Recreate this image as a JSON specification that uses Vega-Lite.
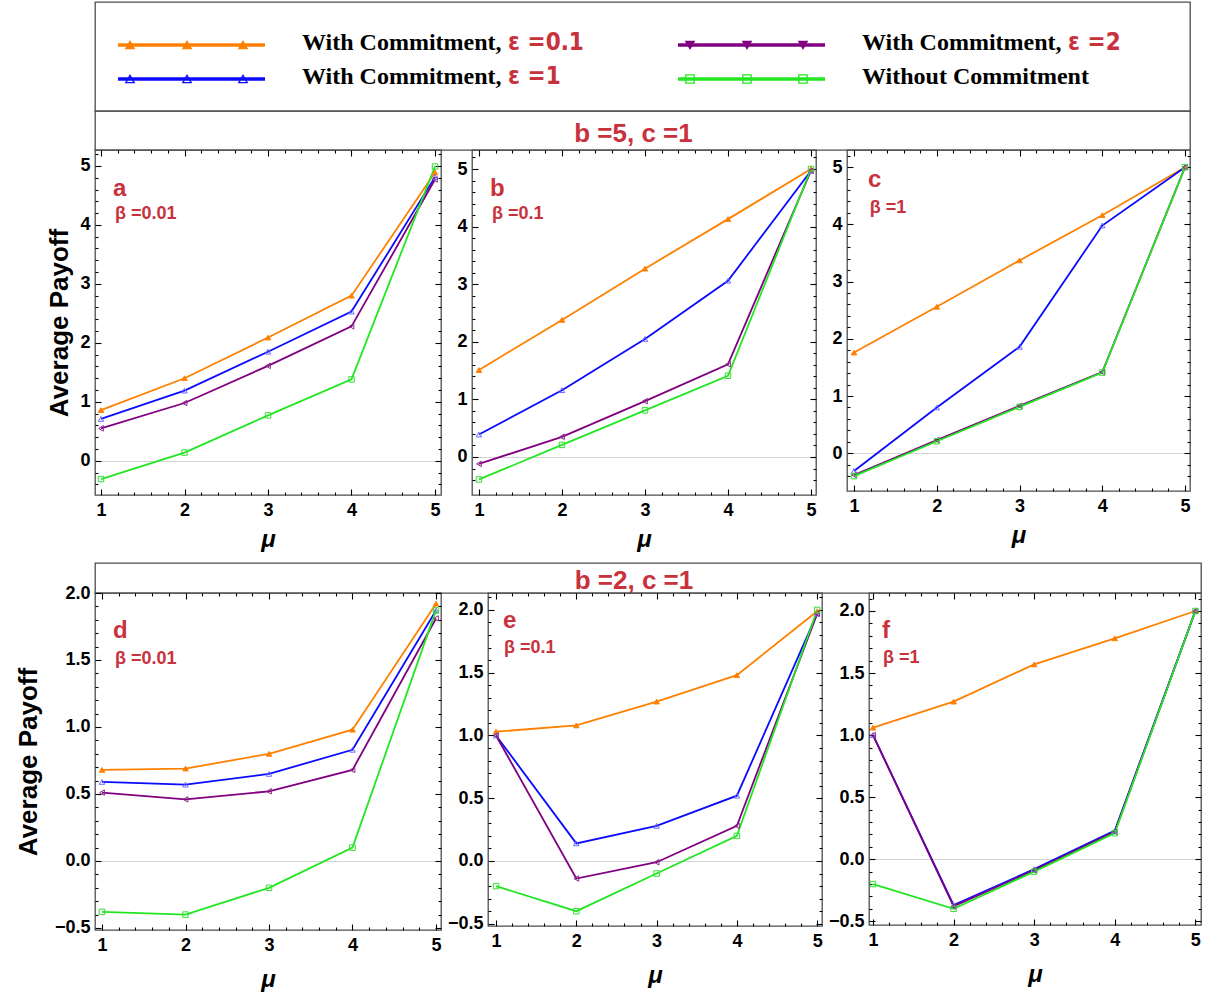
{
"$schema": "https://vega.github.io/schema/vega-lite/v6.json",
"padding": {"left": 14, "top": 1, "right": 2, "bottom": 2},
"background": "white",
"datasets": {
"payoff": [
{"panel":"a","series":"e01","mu":1,"payoff":0.86},{"panel":"a","series":"e01","mu":2,"payoff":1.40},{"panel":"a","series":"e01","mu":3,"payoff":2.09},{"panel":"a","series":"e01","mu":4,"payoff":2.80},{"panel":"a","series":"e01","mu":5,"payoff":4.89},
{"panel":"a","series":"e1","mu":1,"payoff":0.71},{"panel":"a","series":"e1","mu":2,"payoff":1.19},{"panel":"a","series":"e1","mu":3,"payoff":1.85},{"panel":"a","series":"e1","mu":4,"payoff":2.53},{"panel":"a","series":"e1","mu":5,"payoff":4.81},
{"panel":"a","series":"e2","mu":1,"payoff":0.55},{"panel":"a","series":"e2","mu":2,"payoff":0.98},{"panel":"a","series":"e2","mu":3,"payoff":1.61},{"panel":"a","series":"e2","mu":4,"payoff":2.28},{"panel":"a","series":"e2","mu":5,"payoff":4.77},
{"panel":"a","series":"none","mu":1,"payoff":-0.31},{"panel":"a","series":"none","mu":2,"payoff":0.14},{"panel":"a","series":"none","mu":3,"payoff":0.77},{"panel":"a","series":"none","mu":4,"payoff":1.38},{"panel":"a","series":"none","mu":5,"payoff":4.99},
{"panel":"b","series":"e01","mu":1,"payoff":1.51},{"panel":"b","series":"e01","mu":2,"payoff":2.38},{"panel":"b","series":"e01","mu":3,"payoff":3.27},{"panel":"b","series":"e01","mu":4,"payoff":4.13},{"panel":"b","series":"e01","mu":5,"payoff":5.0},
{"panel":"b","series":"e1","mu":1,"payoff":0.39},{"panel":"b","series":"e1","mu":2,"payoff":1.16},{"panel":"b","series":"e1","mu":3,"payoff":2.05},{"panel":"b","series":"e1","mu":4,"payoff":3.06},{"panel":"b","series":"e1","mu":5,"payoff":4.97},
{"panel":"b","series":"e2","mu":1,"payoff":-0.12},{"panel":"b","series":"e2","mu":2,"payoff":0.35},{"panel":"b","series":"e2","mu":3,"payoff":0.97},{"panel":"b","series":"e2","mu":4,"payoff":1.61},{"panel":"b","series":"e2","mu":5,"payoff":4.97},
{"panel":"b","series":"none","mu":1,"payoff":-0.39},{"panel":"b","series":"none","mu":2,"payoff":0.21},{"panel":"b","series":"none","mu":3,"payoff":0.81},{"panel":"b","series":"none","mu":4,"payoff":1.41},{"panel":"b","series":"none","mu":5,"payoff":5.0},
{"panel":"c","series":"e01","mu":1,"payoff":1.76},{"panel":"c","series":"e01","mu":2,"payoff":2.56},{"panel":"c","series":"e01","mu":3,"payoff":3.37},{"panel":"c","series":"e01","mu":4,"payoff":4.16},{"panel":"c","series":"e01","mu":5,"payoff":5.0},
{"panel":"c","series":"e1","mu":1,"payoff":-0.31},{"panel":"c","series":"e1","mu":2,"payoff":0.80},{"panel":"c","series":"e1","mu":3,"payoff":1.86},{"panel":"c","series":"e1","mu":4,"payoff":3.98},{"panel":"c","series":"e1","mu":5,"payoff":5.0},
{"panel":"c","series":"e2","mu":1,"payoff":-0.38},{"panel":"c","series":"e2","mu":2,"payoff":0.23},{"panel":"c","series":"e2","mu":3,"payoff":0.83},{"panel":"c","series":"e2","mu":4,"payoff":1.42},{"panel":"c","series":"e2","mu":5,"payoff":5.0},
{"panel":"c","series":"none","mu":1,"payoff":-0.40},{"panel":"c","series":"none","mu":2,"payoff":0.21},{"panel":"c","series":"none","mu":3,"payoff":0.81},{"panel":"c","series":"none","mu":4,"payoff":1.41},{"panel":"c","series":"none","mu":5,"payoff":5.0},
{"panel":"d","series":"e01","mu":1,"payoff":0.68},{"panel":"d","series":"e01","mu":2,"payoff":0.69},{"panel":"d","series":"e01","mu":3,"payoff":0.80},{"panel":"d","series":"e01","mu":4,"payoff":0.98},{"panel":"d","series":"e01","mu":5,"payoff":1.92},
{"panel":"d","series":"e1","mu":1,"payoff":0.59},{"panel":"d","series":"e1","mu":2,"payoff":0.57},{"panel":"d","series":"e1","mu":3,"payoff":0.65},{"panel":"d","series":"e1","mu":4,"payoff":0.83},{"panel":"d","series":"e1","mu":5,"payoff":1.87},
{"panel":"d","series":"e2","mu":1,"payoff":0.51},{"panel":"d","series":"e2","mu":2,"payoff":0.46},{"panel":"d","series":"e2","mu":3,"payoff":0.52},{"panel":"d","series":"e2","mu":4,"payoff":0.68},{"panel":"d","series":"e2","mu":5,"payoff":1.81},
{"panel":"d","series":"none","mu":1,"payoff":-0.38},{"panel":"d","series":"none","mu":2,"payoff":-0.40},{"panel":"d","series":"none","mu":3,"payoff":-0.20},{"panel":"d","series":"none","mu":4,"payoff":0.10},{"panel":"d","series":"none","mu":5,"payoff":1.87},
{"panel":"e","series":"e01","mu":1,"payoff":1.03},{"panel":"e","series":"e01","mu":2,"payoff":1.08},{"panel":"e","series":"e01","mu":3,"payoff":1.27},{"panel":"e","series":"e01","mu":4,"payoff":1.48},{"panel":"e","series":"e01","mu":5,"payoff":1.99},
{"panel":"e","series":"e1","mu":1,"payoff":1.0},{"panel":"e","series":"e1","mu":2,"payoff":0.14},{"panel":"e","series":"e1","mu":3,"payoff":0.28},{"panel":"e","series":"e1","mu":4,"payoff":0.52},{"panel":"e","series":"e1","mu":5,"payoff":1.97},
{"panel":"e","series":"e2","mu":1,"payoff":1.0},{"panel":"e","series":"e2","mu":2,"payoff":-0.14},{"panel":"e","series":"e2","mu":3,"payoff":-0.01},{"panel":"e","series":"e2","mu":4,"payoff":0.28},{"panel":"e","series":"e2","mu":5,"payoff":1.97},
{"panel":"e","series":"none","mu":1,"payoff":-0.20},{"panel":"e","series":"none","mu":2,"payoff":-0.40},{"panel":"e","series":"none","mu":3,"payoff":-0.10},{"panel":"e","series":"none","mu":4,"payoff":0.20},{"panel":"e","series":"none","mu":5,"payoff":2.0},
{"panel":"f","series":"e01","mu":1,"payoff":1.06},{"panel":"f","series":"e01","mu":2,"payoff":1.27},{"panel":"f","series":"e01","mu":3,"payoff":1.57},{"panel":"f","series":"e01","mu":4,"payoff":1.78},{"panel":"f","series":"e01","mu":5,"payoff":2.0},
{"panel":"f","series":"e1","mu":1,"payoff":1.0},{"panel":"f","series":"e1","mu":2,"payoff":-0.37},{"panel":"f","series":"e1","mu":3,"payoff":-0.08},{"panel":"f","series":"e1","mu":4,"payoff":0.23},{"panel":"f","series":"e1","mu":5,"payoff":2.0},
{"panel":"f","series":"e2","mu":1,"payoff":1.0},{"panel":"f","series":"e2","mu":2,"payoff":-0.38},{"panel":"f","series":"e2","mu":3,"payoff":-0.09},{"panel":"f","series":"e2","mu":4,"payoff":0.22},{"panel":"f","series":"e2","mu":5,"payoff":2.0},
{"panel":"f","series":"none","mu":1,"payoff":-0.20},{"panel":"f","series":"none","mu":2,"payoff":-0.40},{"panel":"f","series":"none","mu":3,"payoff":-0.10},{"panel":"f","series":"none","mu":4,"payoff":0.21},{"panel":"f","series":"none","mu":5,"payoff":2.0}
],
"panels": [
{"panel":"a","beta":"β =0.01"},{"panel":"b","beta":"β =0.1"},{"panel":"c","beta":"β =1"},
{"panel":"d","beta":"β =0.01"},{"panel":"e","beta":"β =0.1"},{"panel":"f","beta":"β =1"}
],
"legend": [
{"series":"e01","column":"left","line":"1","label":"With Commitment,","eps":"ε =0.1"},
{"series":"e1","column":"left","line":"2","label":"With Commitment,","eps":"ε =1"},
{"series":"e2","column":"right","line":"1","label":"With Commitment,","eps":"ε =2"},
{"series":"none","column":"right","line":"2","label":"Without Commitment","eps":""}
],
"strips": [
{"row":1,"label":"b =5, c =1"},{"row":2,"label":"b =2, c =1"}
]
},
"bounds": "flush",
"spacing": 0,
"resolve": {"scale": {"shape": "independent", "fill": "independent", "stroke": "independent", "color": "independent", "x": "independent", "y": "independent"}},
"vconcat": [
 {"width":1095,"height":109,"data":{"name":"legend"},
  "encoding":{
   "x":{"field":"column","type":"nominal","scale":{"type":"point","domain":["left","right"],"range":[20,580],"padding":0},"axis":null},
   "y":{"field":"line","type":"nominal","scale":{"type":"point","domain":["1","2"],"range":[43,77],"padding":0},"axis":null}
  },
  "layer":[
   {"mark":{"type":"rule","strokeWidth":3.5,"xOffset":3,"x2Offset":150},
    "encoding":{"x2":{"field":"column"},"color":{"field":"series","type":"nominal","scale":{"domain":["e01","e1","e2","none"],"range":["#ff8000","#0a0aff","#800080","#22e622"]},"legend":null}}},
   {"mark":{"type":"point","filled":false,"strokeWidth":1.3,"size":70,"opacity":1,"xOffset":15},
    "encoding":{"shape":{"field":"series","type":"nominal","scale":{"domain":["e01","e1","e2","none"],"range":["triangle-up","triangle-up","triangle-down","square"]},"legend":null},
     "stroke":{"field":"series","type":"nominal","scale":{"domain":["e01","e1","e2","none"],"range":["#ff8000","#0a0aff","#800080","#22e622"]},"legend":null},
     "fill":{"field":"series","type":"nominal","scale":{"domain":["e01","e1","e2","none"],"range":["#ff8000","rgba(255,255,255,0)","#800080","rgba(255,255,255,0)"]},"legend":null}}},
   {"mark":{"type":"point","filled":false,"strokeWidth":1.3,"size":70,"opacity":1,"xOffset":72},
    "encoding":{"shape":{"field":"series","type":"nominal","scale":{"domain":["e01","e1","e2","none"],"range":["triangle-up","triangle-up","triangle-down","square"]},"legend":null},
     "stroke":{"field":"series","type":"nominal","scale":{"domain":["e01","e1","e2","none"],"range":["#ff8000","#0a0aff","#800080","#22e622"]},"legend":null},
     "fill":{"field":"series","type":"nominal","scale":{"domain":["e01","e1","e2","none"],"range":["#ff8000","rgba(255,255,255,0)","#800080","rgba(255,255,255,0)"]},"legend":null}}},
   {"mark":{"type":"point","filled":false,"strokeWidth":1.3,"size":70,"opacity":1,"xOffset":128},
    "encoding":{"shape":{"field":"series","type":"nominal","scale":{"domain":["e01","e1","e2","none"],"range":["triangle-up","triangle-up","triangle-down","square"]},"legend":null},
     "stroke":{"field":"series","type":"nominal","scale":{"domain":["e01","e1","e2","none"],"range":["#ff8000","#0a0aff","#800080","#22e622"]},"legend":null},
     "fill":{"field":"series","type":"nominal","scale":{"domain":["e01","e1","e2","none"],"range":["#ff8000","rgba(255,255,255,0)","#800080","rgba(255,255,255,0)"]},"legend":null}}},
   {"mark":{"type":"text","align":"left","baseline":"middle","dx":187,"dy":-2,"font":"Liberation Serif","fontWeight":"bold","fontSize":24,"color":"black"},
    "encoding":{"text":{"field":"label"}}},
   {"mark":{"type":"text","align":"left","baseline":"middle","dx":393,"dy":-2,"font":"Liberation Sans Narrow, DejaVu Sans Condensed, sans-serif","fontWeight":"bold","fontSize":24,"color":"#c8323c"},
    "encoding":{"text":{"field":"eps"}}}
  ]},
 {"width":1095,"height":39,"data":{"name":"strips"},"transform":[{"filter":"datum.row===1"}],
  "mark":{"type":"text","align":"center","baseline":"middle","dx":-9,"dy":3,"font":"Liberation Sans","fontWeight":"bold","fontSize":26,"color":"#c8323c"},
  "encoding":{"x":{"field":"label","type":"nominal","scale":{"type":"point"},"axis":null},"text":{"field":"label"}}},
 {"bounds":"flush","spacing":31,"hconcat":[
  {"width":346,"height":345,"resolve":{"axis":{"x":"independent","y":"independent"}},
   "layer":[
    {"data":{"name":"payoff"},"transform":[{"filter":"datum.panel==='a'"}],"mark":{"type":"line","strokeWidth":1.8},
     "encoding":{
      "x":{"field":"mu","type":"quantitative","scale":{"domain":[0.928,5.072],"nice":false,"zero":false},"axis":{"orient":"bottom","values":[1,2,3,4,5],"title":"μ","tickSize":-6,"titlePadding":8}},
      "y":{"field":"payoff","type":"quantitative","scale":{"domain":[-0.58,5.27],"nice":false,"zero":false},"axis":{"orient":"left","values":[0,1,2,3,4,5],"format":"d","title":"Average Payoff","tickSize":-6,"titlePadding":7,"grid":true,"gridColor":{"condition":{"test":"datum.value===0","value":"#d4d4d4"},"value":"rgba(255,255,255,0)"}}},
      "color":{"field":"series","type":"nominal","scale":{"domain":["e01","e1","e2","none"],"range":["#ff8000","#0a0aff","#800080","#22e622"]},"legend":null}}},
    {"data":{"name":"payoff"},"transform":[{"filter":"datum.panel==='a'"}],"mark":{"type":"point","filled":false,"strokeWidth":1,"size":30,"opacity":1},
     "encoding":{
      "x":{"field":"mu","type":"quantitative","axis":{"orient":"top","values":[1,2,3,4,5],"labels":false,"title":null,"tickSize":-6}},
      "y":{"field":"payoff","type":"quantitative","axis":{"orient":"right","values":[0,1,2,3,4,5],"labels":false,"title":null,"tickSize":-6}},
      "shape":{"field":"series","type":"nominal","scale":{"domain":["e01","e1","e2","none"],"range":["triangle-up","triangle-up","triangle-left","square"]},"legend":null},
      "stroke":{"field":"series","type":"nominal","scale":{"domain":["e01","e1","e2","none"],"range":["#ff8000","#6a6aff","#8a2b8a","#33dd33"]},"legend":null},
      "fill":{"field":"series","type":"nominal","scale":{"domain":["e01","e1","e2","none"],"range":["#ff8000","rgba(255,255,255,0)","rgba(255,255,255,0)","rgba(255,255,255,0)"]},"legend":null}}},
    {"data":{"name":"panels"},"transform":[{"filter":"datum.panel==='a'"}],"mark":{"type":"text","align":"left","baseline":"middle","font":"Liberation Sans","fontWeight":"bold","fontSize":24,"color":"#c8323c"},
     "encoding":{
      "x":{"datum":1.144,"type":"quantitative","axis":{"orient":"bottom","values":[1.2,1.4,1.6,1.8,2.2,2.4,2.6,2.8,3.2,3.4,3.6,3.8,4.2,4.4,4.6,4.8],"labels":false,"title":null,"tickSize":-3}},
      "y":{"datum":4.61,"type":"quantitative","axis":{"orient":"left","values":[-0.4,-0.2,0.2,0.4,0.6,0.8,1.2,1.4,1.6,1.8,2.2,2.4,2.6,2.8,3.2,3.4,3.6,3.8,4.2,4.4,4.6,4.8,5.2],"labels":false,"title":null,"tickSize":-3}},
      "text":{"field":"panel"}}},
    {"data":{"name":"panels"},"transform":[{"filter":"datum.panel==='a'"}],"mark":{"type":"text","align":"left","baseline":"middle","font":"Liberation Sans","fontWeight":"bold","fontSize":18,"color":"#c8323c"},
     "encoding":{
      "x":{"datum":1.168,"type":"quantitative","axis":{"orient":"top","values":[1.2,1.4,1.6,1.8,2.2,2.4,2.6,2.8,3.2,3.4,3.6,3.8,4.2,4.4,4.6,4.8],"labels":false,"title":null,"tickSize":-3}},
      "y":{"datum":4.19,"type":"quantitative","axis":{"orient":"right","values":[-0.4,-0.2,0.2,0.4,0.6,0.8,1.2,1.4,1.6,1.8,2.2,2.4,2.6,2.8,3.2,3.4,3.6,3.8,4.2,4.4,4.6,4.8,5.2],"labels":false,"title":null,"tickSize":-3}},
      "text":{"field":"beta"}}}
   ]},
  {"width":344,"height":345,"resolve":{"axis":{"x":"independent","y":"independent"}},
   "layer":[
    {"data":{"name":"payoff"},"transform":[{"filter":"datum.panel==='b'"}],"mark":{"type":"line","strokeWidth":1.8},
     "encoding":{
      "x":{"field":"mu","type":"quantitative","scale":{"domain":[0.916,5.06],"nice":false,"zero":false},"axis":{"orient":"bottom","values":[1,2,3,4,5],"title":"μ","tickSize":-6,"titlePadding":8}},
      "y":{"field":"payoff","type":"quantitative","scale":{"domain":[-0.66,5.33],"nice":false,"zero":false},"axis":{"orient":"left","values":[0,1,2,3,4,5],"format":"d","title":null,"tickSize":-6,"grid":true,"gridColor":{"condition":{"test":"datum.value===0","value":"#d4d4d4"},"value":"rgba(255,255,255,0)"}}},
      "color":{"field":"series","type":"nominal","scale":{"domain":["e01","e1","e2","none"],"range":["#ff8000","#0a0aff","#800080","#22e622"]},"legend":null}}},
    {"data":{"name":"payoff"},"transform":[{"filter":"datum.panel==='b'"}],"mark":{"type":"point","filled":false,"strokeWidth":1,"size":30,"opacity":1},
     "encoding":{
      "x":{"field":"mu","type":"quantitative","axis":{"orient":"top","values":[1,2,3,4,5],"labels":false,"title":null,"tickSize":-6}},
      "y":{"field":"payoff","type":"quantitative","axis":{"orient":"right","values":[0,1,2,3,4,5],"labels":false,"title":null,"tickSize":-6}},
      "shape":{"field":"series","type":"nominal","scale":{"domain":["e01","e1","e2","none"],"range":["triangle-up","triangle-up","triangle-left","square"]},"legend":null},
      "stroke":{"field":"series","type":"nominal","scale":{"domain":["e01","e1","e2","none"],"range":["#ff8000","#6a6aff","#8a2b8a","#33dd33"]},"legend":null},
      "fill":{"field":"series","type":"nominal","scale":{"domain":["e01","e1","e2","none"],"range":["#ff8000","rgba(255,255,255,0)","rgba(255,255,255,0)","rgba(255,255,255,0)"]},"legend":null}}},
    {"data":{"name":"panels"},"transform":[{"filter":"datum.panel==='b'"}],"mark":{"type":"text","align":"left","baseline":"middle","font":"Liberation Sans","fontWeight":"bold","fontSize":24,"color":"#c8323c"},
     "encoding":{
      "x":{"datum":1.133,"type":"quantitative","axis":{"orient":"bottom","values":[1.2,1.4,1.6,1.8,2.2,2.4,2.6,2.8,3.2,3.4,3.6,3.8,4.2,4.4,4.6,4.8],"labels":false,"title":null,"tickSize":-3}},
      "y":{"datum":4.65,"type":"quantitative","axis":{"orient":"left","values":[-0.4,-0.2,0.2,0.4,0.6,0.8,1.2,1.4,1.6,1.8,2.2,2.4,2.6,2.8,3.2,3.4,3.6,3.8,4.2,4.4,4.6,4.8,5.2],"labels":false,"title":null,"tickSize":-3}},
      "text":{"field":"panel"}}},
    {"data":{"name":"panels"},"transform":[{"filter":"datum.panel==='b'"}],"mark":{"type":"text","align":"left","baseline":"middle","font":"Liberation Sans","fontWeight":"bold","fontSize":18,"color":"#c8323c"},
     "encoding":{
      "x":{"datum":1.157,"type":"quantitative","axis":{"orient":"top","values":[1.2,1.4,1.6,1.8,2.2,2.4,2.6,2.8,3.2,3.4,3.6,3.8,4.2,4.4,4.6,4.8],"labels":false,"title":null,"tickSize":-3}},
      "y":{"datum":4.22,"type":"quantitative","axis":{"orient":"right","values":[-0.4,-0.2,0.2,0.4,0.6,0.8,1.2,1.4,1.6,1.8,2.2,2.4,2.6,2.8,3.2,3.4,3.6,3.8,4.2,4.4,4.6,4.8,5.2],"labels":false,"title":null,"tickSize":-3}},
      "text":{"field":"beta"}}}
   ]},
  {"width":343,"height":341,"resolve":{"axis":{"x":"independent","y":"independent"}},
   "layer":[
    {"data":{"name":"payoff"},"transform":[{"filter":"datum.panel==='c'"}],"mark":{"type":"line","strokeWidth":1.8},
     "encoding":{
      "x":{"field":"mu","type":"quantitative","scale":{"domain":[0.915,5.06],"nice":false,"zero":false},"axis":{"orient":"bottom","values":[1,2,3,4,5],"title":"μ","tickSize":-6,"titlePadding":8}},
      "y":{"field":"payoff","type":"quantitative","scale":{"domain":[-0.66,5.30],"nice":false,"zero":false},"axis":{"orient":"left","values":[0,1,2,3,4,5],"format":"d","title":null,"tickSize":-6,"grid":true,"gridColor":{"condition":{"test":"datum.value===0","value":"#d4d4d4"},"value":"rgba(255,255,255,0)"}}},
      "color":{"field":"series","type":"nominal","scale":{"domain":["e01","e1","e2","none"],"range":["#ff8000","#0a0aff","#800080","#22e622"]},"legend":null}}},
    {"data":{"name":"payoff"},"transform":[{"filter":"datum.panel==='c'"}],"mark":{"type":"point","filled":false,"strokeWidth":1,"size":30,"opacity":1},
     "encoding":{
      "x":{"field":"mu","type":"quantitative","axis":{"orient":"top","values":[1,2,3,4,5],"labels":false,"title":null,"tickSize":-6}},
      "y":{"field":"payoff","type":"quantitative","axis":{"orient":"right","values":[0,1,2,3,4,5],"labels":false,"title":null,"tickSize":-6}},
      "shape":{"field":"series","type":"nominal","scale":{"domain":["e01","e1","e2","none"],"range":["triangle-up","triangle-up","triangle-left","square"]},"legend":null},
      "stroke":{"field":"series","type":"nominal","scale":{"domain":["e01","e1","e2","none"],"range":["#ff8000","#6a6aff","#8a2b8a","#33dd33"]},"legend":null},
      "fill":{"field":"series","type":"nominal","scale":{"domain":["e01","e1","e2","none"],"range":["#ff8000","rgba(255,255,255,0)","rgba(255,255,255,0)","rgba(255,255,255,0)"]},"legend":null}}},
    {"data":{"name":"panels"},"transform":[{"filter":"datum.panel==='c'"}],"mark":{"type":"text","align":"left","baseline":"middle","font":"Liberation Sans","fontWeight":"bold","fontSize":24,"color":"#c8323c"},
     "encoding":{
      "x":{"datum":1.169,"type":"quantitative","axis":{"orient":"bottom","values":[1.2,1.4,1.6,1.8,2.2,2.4,2.6,2.8,3.2,3.4,3.6,3.8,4.2,4.4,4.6,4.8],"labels":false,"title":null,"tickSize":-3}},
      "y":{"datum":4.77,"type":"quantitative","axis":{"orient":"left","values":[-0.4,-0.2,0.2,0.4,0.6,0.8,1.2,1.4,1.6,1.8,2.2,2.4,2.6,2.8,3.2,3.4,3.6,3.8,4.2,4.4,4.6,4.8,5.2],"labels":false,"title":null,"tickSize":-3}},
      "text":{"field":"panel"}}},
    {"data":{"name":"panels"},"transform":[{"filter":"datum.panel==='c'"}],"mark":{"type":"text","align":"left","baseline":"middle","font":"Liberation Sans","fontWeight":"bold","fontSize":18,"color":"#c8323c"},
     "encoding":{
      "x":{"datum":1.19,"type":"quantitative","axis":{"orient":"top","values":[1.2,1.4,1.6,1.8,2.2,2.4,2.6,2.8,3.2,3.4,3.6,3.8,4.2,4.4,4.6,4.8],"labels":false,"title":null,"tickSize":-3}},
      "y":{"datum":4.28,"type":"quantitative","axis":{"orient":"right","values":[-0.4,-0.2,0.2,0.4,0.6,0.8,1.2,1.4,1.6,1.8,2.2,2.4,2.6,2.8,3.2,3.4,3.6,3.8,4.2,4.4,4.6,4.8,5.2],"labels":false,"title":null,"tickSize":-3}},
      "text":{"field":"beta"}}}
   ]}
 ]},
 {"width":1095,"height":413,"view":{"stroke":null},"data":{"values":[]},"mark":"point"},
 {"width":1106,"height":30,"data":{"name":"strips"},"transform":[{"filter":"datum.row===2"}],
  "mark":{"type":"text","align":"center","baseline":"middle","dx":-14,"dy":3,"font":"Liberation Sans","fontWeight":"bold","fontSize":26,"color":"#c8323c"},
  "encoding":{"x":{"field":"label","type":"nominal","scale":{"type":"point"},"axis":null},"text":{"field":"label"}}},
 {"bounds":"flush","spacing":47,"hconcat":[
  {"width":346,"height":337,"resolve":{"axis":{"x":"independent","y":"independent"}},
   "layer":[
    {"data":{"name":"payoff"},"transform":[{"filter":"datum.panel==='d'"}],"mark":{"type":"line","strokeWidth":1.8},
     "encoding":{
      "x":{"field":"mu","type":"quantitative","scale":{"domain":[0.916,5.06],"nice":false,"zero":false},"axis":{"orient":"bottom","values":[1,2,3,4,5],"title":"μ","tickSize":-6,"titlePadding":13}},
      "y":{"field":"payoff","type":"quantitative","scale":{"domain":[-0.515,2.0],"nice":false,"zero":false},"axis":{"orient":"left","values":[-0.5,0,0.5,1,1.5,2],"format":".1f","title":"Average Payoff","tickSize":-6,"titlePadding":13,"grid":true,"gridColor":{"condition":{"test":"datum.value===0","value":"#d4d4d4"},"value":"rgba(255,255,255,0)"}}},
      "color":{"field":"series","type":"nominal","scale":{"domain":["e01","e1","e2","none"],"range":["#ff8000","#0a0aff","#800080","#22e622"]},"legend":null}}},
    {"data":{"name":"payoff"},"transform":[{"filter":"datum.panel==='d'"}],"mark":{"type":"point","filled":false,"strokeWidth":1,"size":30,"opacity":1},
     "encoding":{
      "x":{"field":"mu","type":"quantitative","axis":{"orient":"top","values":[1,2,3,4,5],"labels":false,"title":null,"tickSize":-6}},
      "y":{"field":"payoff","type":"quantitative","axis":{"orient":"right","values":[-0.5,0,0.5,1,1.5,2],"labels":false,"title":null,"tickSize":-6}},
      "shape":{"field":"series","type":"nominal","scale":{"domain":["e01","e1","e2","none"],"range":["triangle-up","triangle-up","triangle-left","square"]},"legend":null},
      "stroke":{"field":"series","type":"nominal","scale":{"domain":["e01","e1","e2","none"],"range":["#ff8000","#6a6aff","#8a2b8a","#33dd33"]},"legend":null},
      "fill":{"field":"series","type":"nominal","scale":{"domain":["e01","e1","e2","none"],"range":["#ff8000","rgba(255,255,255,0)","rgba(255,255,255,0)","rgba(255,255,255,0)"]},"legend":null}}},
    {"data":{"name":"panels"},"transform":[{"filter":"datum.panel==='d'"}],"mark":{"type":"text","align":"left","baseline":"middle","font":"Liberation Sans","fontWeight":"bold","fontSize":24,"color":"#c8323c"},
     "encoding":{
      "x":{"datum":1.132,"type":"quantitative","axis":{"orient":"bottom","values":[1.2,1.4,1.6,1.8,2.2,2.4,2.6,2.8,3.2,3.4,3.6,3.8,4.2,4.4,4.6,4.8],"labels":false,"title":null,"tickSize":-3}},
      "y":{"datum":1.716,"type":"quantitative","axis":{"orient":"left","values":[-0.4,-0.3,-0.2,-0.1,0.1,0.2,0.3,0.4,0.6,0.7,0.8,0.9,1.1,1.2,1.3,1.4,1.6,1.7,1.8,1.9],"labels":false,"title":null,"tickSize":-3}},
      "text":{"field":"panel"}}},
    {"data":{"name":"panels"},"transform":[{"filter":"datum.panel==='d'"}],"mark":{"type":"text","align":"left","baseline":"middle","font":"Liberation Sans","fontWeight":"bold","fontSize":18,"color":"#c8323c"},
     "encoding":{
      "x":{"datum":1.156,"type":"quantitative","axis":{"orient":"top","values":[1.2,1.4,1.6,1.8,2.2,2.4,2.6,2.8,3.2,3.4,3.6,3.8,4.2,4.4,4.6,4.8],"labels":false,"title":null,"tickSize":-3}},
      "y":{"datum":1.507,"type":"quantitative","axis":{"orient":"right","values":[-0.4,-0.3,-0.2,-0.1,0.1,0.2,0.3,0.4,0.6,0.7,0.8,0.9,1.1,1.2,1.3,1.4,1.6,1.7,1.8,1.9],"labels":false,"title":null,"tickSize":-3}},
      "text":{"field":"beta"}}}
   ]},
  {"width":334,"height":333,"resolve":{"axis":{"x":"independent","y":"independent"}},
   "layer":[
    {"data":{"name":"payoff"},"transform":[{"filter":"datum.panel==='e'"}],"mark":{"type":"line","strokeWidth":1.8},
     "encoding":{
      "x":{"field":"mu","type":"quantitative","scale":{"domain":[0.9,5.06],"nice":false,"zero":false},"axis":{"orient":"bottom","values":[1,2,3,4,5],"title":"μ","tickSize":-6,"titlePadding":13}},
      "y":{"field":"payoff","type":"quantitative","scale":{"domain":[-0.518,2.135],"nice":false,"zero":false},"axis":{"orient":"left","values":[-0.5,0,0.5,1,1.5,2],"format":".1f","title":null,"tickSize":-6,"grid":true,"gridColor":{"condition":{"test":"datum.value===0","value":"#d4d4d4"},"value":"rgba(255,255,255,0)"}}},
      "color":{"field":"series","type":"nominal","scale":{"domain":["e01","e1","e2","none"],"range":["#ff8000","#0a0aff","#800080","#22e622"]},"legend":null}}},
    {"data":{"name":"payoff"},"transform":[{"filter":"datum.panel==='e'"}],"mark":{"type":"point","filled":false,"strokeWidth":1,"size":30,"opacity":1},
     "encoding":{
      "x":{"field":"mu","type":"quantitative","axis":{"orient":"top","values":[1,2,3,4,5],"labels":false,"title":null,"tickSize":-6}},
      "y":{"field":"payoff","type":"quantitative","axis":{"orient":"right","values":[-0.5,0,0.5,1,1.5,2],"labels":false,"title":null,"tickSize":-6}},
      "shape":{"field":"series","type":"nominal","scale":{"domain":["e01","e1","e2","none"],"range":["triangle-up","triangle-up","triangle-left","square"]},"legend":null},
      "stroke":{"field":"series","type":"nominal","scale":{"domain":["e01","e1","e2","none"],"range":["#ff8000","#6a6aff","#8a2b8a","#33dd33"]},"legend":null},
      "fill":{"field":"series","type":"nominal","scale":{"domain":["e01","e1","e2","none"],"range":["#ff8000","rgba(255,255,255,0)","rgba(255,255,255,0)","rgba(255,255,255,0)"]},"legend":null}}},
    {"data":{"name":"panels"},"transform":[{"filter":"datum.panel==='e'"}],"mark":{"type":"text","align":"left","baseline":"middle","font":"Liberation Sans","fontWeight":"bold","fontSize":24,"color":"#c8323c"},
     "encoding":{
      "x":{"datum":1.087,"type":"quantitative","axis":{"orient":"bottom","values":[1.2,1.4,1.6,1.8,2.2,2.4,2.6,2.8,3.2,3.4,3.6,3.8,4.2,4.4,4.6,4.8],"labels":false,"title":null,"tickSize":-3}},
      "y":{"datum":1.91,"type":"quantitative","axis":{"orient":"left","values":[-0.4,-0.3,-0.2,-0.1,0.1,0.2,0.3,0.4,0.6,0.7,0.8,0.9,1.1,1.2,1.3,1.4,1.6,1.7,1.8,1.9,2.1],"labels":false,"title":null,"tickSize":-3}},
      "text":{"field":"panel"}}},
    {"data":{"name":"panels"},"transform":[{"filter":"datum.panel==='e'"}],"mark":{"type":"text","align":"left","baseline":"middle","font":"Liberation Sans","fontWeight":"bold","fontSize":18,"color":"#c8323c"},
     "encoding":{
      "x":{"datum":1.1,"type":"quantitative","axis":{"orient":"top","values":[1.2,1.4,1.6,1.8,2.2,2.4,2.6,2.8,3.2,3.4,3.6,3.8,4.2,4.4,4.6,4.8],"labels":false,"title":null,"tickSize":-3}},
      "y":{"datum":1.70,"type":"quantitative","axis":{"orient":"right","values":[-0.4,-0.3,-0.2,-0.1,0.1,0.2,0.3,0.4,0.6,0.7,0.8,0.9,1.1,1.2,1.3,1.4,1.6,1.7,1.8,1.9,2.1],"labels":false,"title":null,"tickSize":-3}},
      "text":{"field":"beta"}}}
   ]},
  {"width":332,"height":332,"resolve":{"axis":{"x":"independent","y":"independent"}},
   "layer":[
    {"data":{"name":"payoff"},"transform":[{"filter":"datum.panel==='f'"}],"mark":{"type":"line","strokeWidth":1.8},
     "encoding":{
      "x":{"field":"mu","type":"quantitative","scale":{"domain":[0.95,5.07],"nice":false,"zero":false},"axis":{"orient":"bottom","values":[1,2,3,4,5],"title":"μ","tickSize":-6,"titlePadding":13}},
      "y":{"field":"payoff","type":"quantitative","scale":{"domain":[-0.53,2.145],"nice":false,"zero":false},"axis":{"orient":"left","values":[-0.5,0,0.5,1,1.5,2],"format":".1f","title":null,"tickSize":-6,"grid":true,"gridColor":{"condition":{"test":"datum.value===0","value":"#d4d4d4"},"value":"rgba(255,255,255,0)"}}},
      "color":{"field":"series","type":"nominal","scale":{"domain":["e01","e1","e2","none"],"range":["#ff8000","#0a0aff","#800080","#22e622"]},"legend":null}}},
    {"data":{"name":"payoff"},"transform":[{"filter":"datum.panel==='f'"}],"mark":{"type":"point","filled":false,"strokeWidth":1,"size":30,"opacity":1},
     "encoding":{
      "x":{"field":"mu","type":"quantitative","axis":{"orient":"top","values":[1,2,3,4,5],"labels":false,"title":null,"tickSize":-6}},
      "y":{"field":"payoff","type":"quantitative","axis":{"orient":"right","values":[-0.5,0,0.5,1,1.5,2],"labels":false,"title":null,"tickSize":-6}},
      "shape":{"field":"series","type":"nominal","scale":{"domain":["e01","e1","e2","none"],"range":["triangle-up","triangle-up","triangle-left","square"]},"legend":null},
      "stroke":{"field":"series","type":"nominal","scale":{"domain":["e01","e1","e2","none"],"range":["#ff8000","#6a6aff","#8a2b8a","#33dd33"]},"legend":null},
      "fill":{"field":"series","type":"nominal","scale":{"domain":["e01","e1","e2","none"],"range":["#ff8000","rgba(255,255,255,0)","rgba(255,255,255,0)","rgba(255,255,255,0)"]},"legend":null}}},
    {"data":{"name":"panels"},"transform":[{"filter":"datum.panel==='f'"}],"mark":{"type":"text","align":"left","baseline":"middle","font":"Liberation Sans","fontWeight":"bold","fontSize":24,"color":"#c8323c"},
     "encoding":{
      "x":{"datum":1.111,"type":"quantitative","axis":{"orient":"bottom","values":[1.2,1.4,1.6,1.8,2.2,2.4,2.6,2.8,3.2,3.4,3.6,3.8,4.2,4.4,4.6,4.8],"labels":false,"title":null,"tickSize":-3}},
      "y":{"datum":1.84,"type":"quantitative","axis":{"orient":"left","values":[-0.4,-0.3,-0.2,-0.1,0.1,0.2,0.3,0.4,0.6,0.7,0.8,0.9,1.1,1.2,1.3,1.4,1.6,1.7,1.8,1.9,2.1],"labels":false,"title":null,"tickSize":-3}},
      "text":{"field":"panel"}}},
    {"data":{"name":"panels"},"transform":[{"filter":"datum.panel==='f'"}],"mark":{"type":"text","align":"left","baseline":"middle","font":"Liberation Sans","fontWeight":"bold","fontSize":18,"color":"#c8323c"},
     "encoding":{
      "x":{"datum":1.125,"type":"quantitative","axis":{"orient":"top","values":[1.2,1.4,1.6,1.8,2.2,2.4,2.6,2.8,3.2,3.4,3.6,3.8,4.2,4.4,4.6,4.8],"labels":false,"title":null,"tickSize":-3}},
      "y":{"datum":1.62,"type":"quantitative","axis":{"orient":"right","values":[-0.4,-0.3,-0.2,-0.1,0.1,0.2,0.3,0.4,0.6,0.7,0.8,0.9,1.1,1.2,1.3,1.4,1.6,1.7,1.8,1.9,2.1],"labels":false,"title":null,"tickSize":-3}},
      "text":{"field":"beta"}}}
   ]}
 ]}
],
"config": {
 "view": {"stroke": "#4d4d4d", "strokeWidth": 1.3},
 "axis": {"domain": false, "grid": false, "tickColor": "black", "tickWidth": 1.1, "labelFont": "Liberation Sans", "labelFontWeight": "bold", "labelFontSize": 18, "labelColor": "black", "titleFont": "Liberation Sans", "titleFontWeight": "bold", "titleColor": "black", "labelFlush": false, "labelOverlap": false},
 "axisX": {"titleFontSize": 24, "titleFontStyle": "italic", "labelPadding": 12},
 "axisY": {"titleFontSize": 26, "labelPadding": 11}
}
}
